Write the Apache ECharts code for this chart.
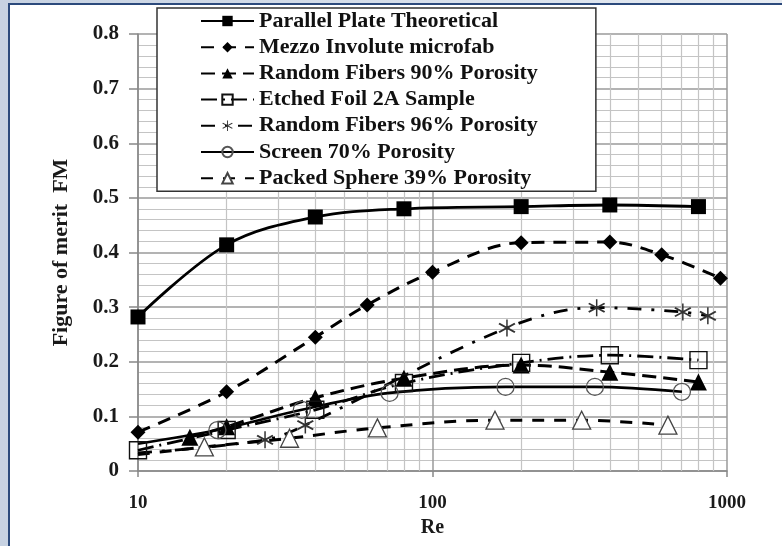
<!DOCTYPE html>
<html>
<head>
<meta charset="utf-8">
<script src="https://cdn.jsdelivr.net/npm/echarts@6/dist/echarts.min.js"></script>
<style>
  html, body { margin: 0; padding: 0; }
  body { width: 782px; height: 546px; position: relative; overflow: hidden;
         background: linear-gradient(to right, #c7d2e2, #e6ebf2); }
  #frame { position: absolute; left: 8px; top: 3px; right: 0; bottom: 0; background: #fff;
           border-left: 2px solid #2c4a7c; border-top: 2px solid #2c4a7c; }
  #chart { position: absolute; left: 0; top: 0; width: 782px; height: 546px; }
</style>
</head>
<body>
<div id="frame"></div>
<div id="chart"></div>
<script>
// ---- Data ----
const seriesNames = [
  'Parallel Plate Theoretical',
  'Mezzo Involute microfab',
  'Random Fibers 90% Porosity',
  'Etched Foil 2A Sample',
  'Random Fibers 96% Porosity',
  'Screen 70% Porosity',
  'Packed Sphere 39% Porosity'
];
const parallelRe = [10, 20, 40, 80, 200, 400, 800];
const parallelFM = [0.282, 0.414, 0.465, 0.48, 0.484, 0.487, 0.484];

const mezzoRe = [10, 20, 40, 60, 100, 200, 400, 600, 950];
const mezzoFM = [0.071, 0.145, 0.245, 0.304, 0.364, 0.418, 0.419, 0.396, 0.353];

const fibers90Re = [15, 20, 40, 80, 200, 400, 800];
const fibers90FM = [0.062, 0.081, 0.134, 0.17, 0.194, 0.181, 0.163];

const etchedRe = [10, 20, 40, 80, 200, 400, 800];
const etchedFM = [0.038, 0.075, 0.112, 0.161, 0.198, 0.212, 0.203];

const fibers96Re = [10, 27, 37, 179, 361, 708, 861];
const fibers96FM = [0.033, 0.057, 0.084, 0.262, 0.299, 0.291, 0.284];

const screenRe = [10, 18.6, 36, 71.5, 177, 356, 703];
const screenFM = [0.05, 0.075, 0.112, 0.143, 0.154, 0.154, 0.145];

const packedRe = [10, 16.8, 32.7, 65, 163, 321, 630];
const packedFM = [0.03, 0.044, 0.06, 0.079, 0.093, 0.093, 0.084];

const xTickLabels = ['10', '100', '1000'];
const minorRe = [20, 30, 40, 50, 60, 70, 80, 90, 200, 300, 400, 500, 600, 700, 800, 900];

// ---- Chart ----
const FONT = '"Liberation Serif", "Times New Roman", serif';
function pairs(xs, ys, hideFirst) {
  return xs.map((x, i) => {
    const item = { value: [x, ys[i]] };
    if (hideFirst && i === 0) item.symbol = 'none';
    return item;
  });
}
const asterisk = 'path://M-0.8,-10 L0.8,-10 L0.8,10 L-0.8,10 Z ' +
  'M7.9,-5.9 L9.1,-4.3 L-7.9,5.9 L-9.1,4.3 Z ' +
  'M-9.1,-4.3 L-7.9,-5.9 L9.1,4.3 L7.9,5.9 Z';

const chart = echarts.init(document.getElementById('chart'), null, { renderer: 'canvas' });
const option = {
  animation: false,
  backgroundColor: 'transparent',
  textStyle: { fontFamily: FONT },
  grid: { left: 138, right: 55, top: 34, bottom: 75 },
  xAxis: {
    type: 'log', logBase: 10, min: 10, max: 1000,
    name: 'Re', nameLocation: 'middle', nameGap: 47,
    nameTextStyle: { fontFamily: FONT, fontWeight: 'bold', fontSize: 20, color: '#1a1a1a' },
    axisLine: { show: true, onZero: false, lineStyle: { color: '#888', width: 1.5 } },
    axisTick: { show: true, length: 6, lineStyle: { color: '#888', width: 1.5 } },
    axisLabel: { margin: 23, fontFamily: FONT, fontWeight: 'bold', fontSize: 19, color: '#1a1a1a',
      formatter: v => { const i = Math.round(Math.log10(v)) - 1; return xTickLabels[i] !== undefined ? xTickLabels[i] : ''; } },
    splitLine: { show: true, lineStyle: { color: '#9a9a9a', width: 1.5 } }
  },
  yAxis: {
    type: 'value', min: 0, max: 0.8, interval: 0.1,
    name: 'Figure of merit  FM', nameLocation: 'middle', nameGap: 66, nameRotate: 90,
    nameTextStyle: { fontFamily: FONT, fontWeight: 'bold', fontSize: 22, color: '#1a1a1a' },
    axisLine: { show: true, lineStyle: { color: '#888', width: 1.5 } },
    axisTick: { show: true, length: 9, lineStyle: { color: '#888', width: 1.5 } },
    axisLabel: { margin: 19, fontFamily: FONT, fontWeight: 'bold', fontSize: 21, color: '#1a1a1a',
      formatter: v => (Math.abs(v) < 1e-9 ? '0' : v.toFixed(1)) },
    splitLine: { show: true, lineStyle: { color: '#9a9a9a', width: 1.5 } },
    minorTick: { show: false, splitNumber: 5 },
    minorSplitLine: { show: true, lineStyle: { color: '#c4c4c4', width: 1.2 } }
  },
  legend: {
    data: seriesNames,
    orient: 'vertical', left: 157, top: 8,
    padding: [2, 58, 2, 43],
    itemWidth: 53, itemHeight: 13, itemGap: 4.2,
    backgroundColor: '#fff', borderColor: '#333', borderWidth: 1.5, borderRadius: 0,
    textStyle: { fontFamily: FONT, fontWeight: 'bold', fontSize: 22, lineHeight: 22, color: '#111' },
    z: 10
  },
  series: [
    {
      type: 'line', data: [], silent: true, z: 1,
      markLine: {
        silent: true, symbol: 'none', label: { show: false },
        lineStyle: { color: '#c4c4c4', width: 1.2, type: 'solid' },
        data: minorRe.map(v => ({ xAxis: v }))
      }
    },
    {
      name: seriesNames[0], type: 'line', smooth: 0.35, z: 5,
      data: pairs(parallelRe, parallelFM),
      symbol: 'rect', symbolSize: 15,
      itemStyle: { color: '#000' }, lineStyle: { color: '#000', width: 2.8 }
    },
    {
      name: seriesNames[1], type: 'line', smooth: 0.35, z: 5,
      data: pairs(mezzoRe, mezzoFM),
      symbol: 'diamond', symbolSize: 15,
      itemStyle: { color: '#000' }, lineStyle: { color: '#000', width: 3, type: [13, 9] }
    },
    {
      name: seriesNames[2], type: 'line', smooth: 0.35, z: 5,
      data: pairs(fibers90Re, fibers90FM),
      symbol: 'triangle', symbolSize: 17,
      itemStyle: { color: '#000' }, lineStyle: { color: '#000', width: 3, type: [14, 7] }
    },
    {
      name: seriesNames[3], type: 'line', smooth: 0.35, z: 5,
      data: pairs(etchedRe, etchedFM),
      symbol: 'rect', symbolSize: 17,
      itemStyle: { color: 'rgba(255,255,255,0)', borderColor: '#111', borderWidth: 1.4 },
      lineStyle: { color: '#000', width: 2.8, type: [16, 6, 2, 6] }
    },
    {
      name: seriesNames[4], type: 'line', smooth: 0.35, z: 5,
      data: pairs(fibers96Re, fibers96FM, true),
      symbol: asterisk, symbolSize: 17,
      itemStyle: { color: '#333' },
      lineStyle: { color: '#000', width: 2.8, type: [14, 10, 3, 10] }
    },
    {
      name: seriesNames[5], type: 'line', smooth: 0.35, z: 5,
      data: pairs(screenRe, screenFM, true),
      symbol: 'circle', symbolSize: 17,
      itemStyle: { color: 'rgba(255,255,255,0)', borderColor: '#555', borderWidth: 1.3 },
      lineStyle: { color: '#000', width: 2.6 }
    },
    {
      name: seriesNames[6], type: 'line', smooth: 0.35, z: 5,
      data: pairs(packedRe, packedFM, true),
      symbol: 'triangle', symbolSize: 18,
      itemStyle: { color: '#fff', borderColor: '#444', borderWidth: 1.3 },
      lineStyle: { color: '#000', width: 3, type: [12, 10] }
    }
  ]
};
chart.setOption(option);
</script>
</body>
</html>
